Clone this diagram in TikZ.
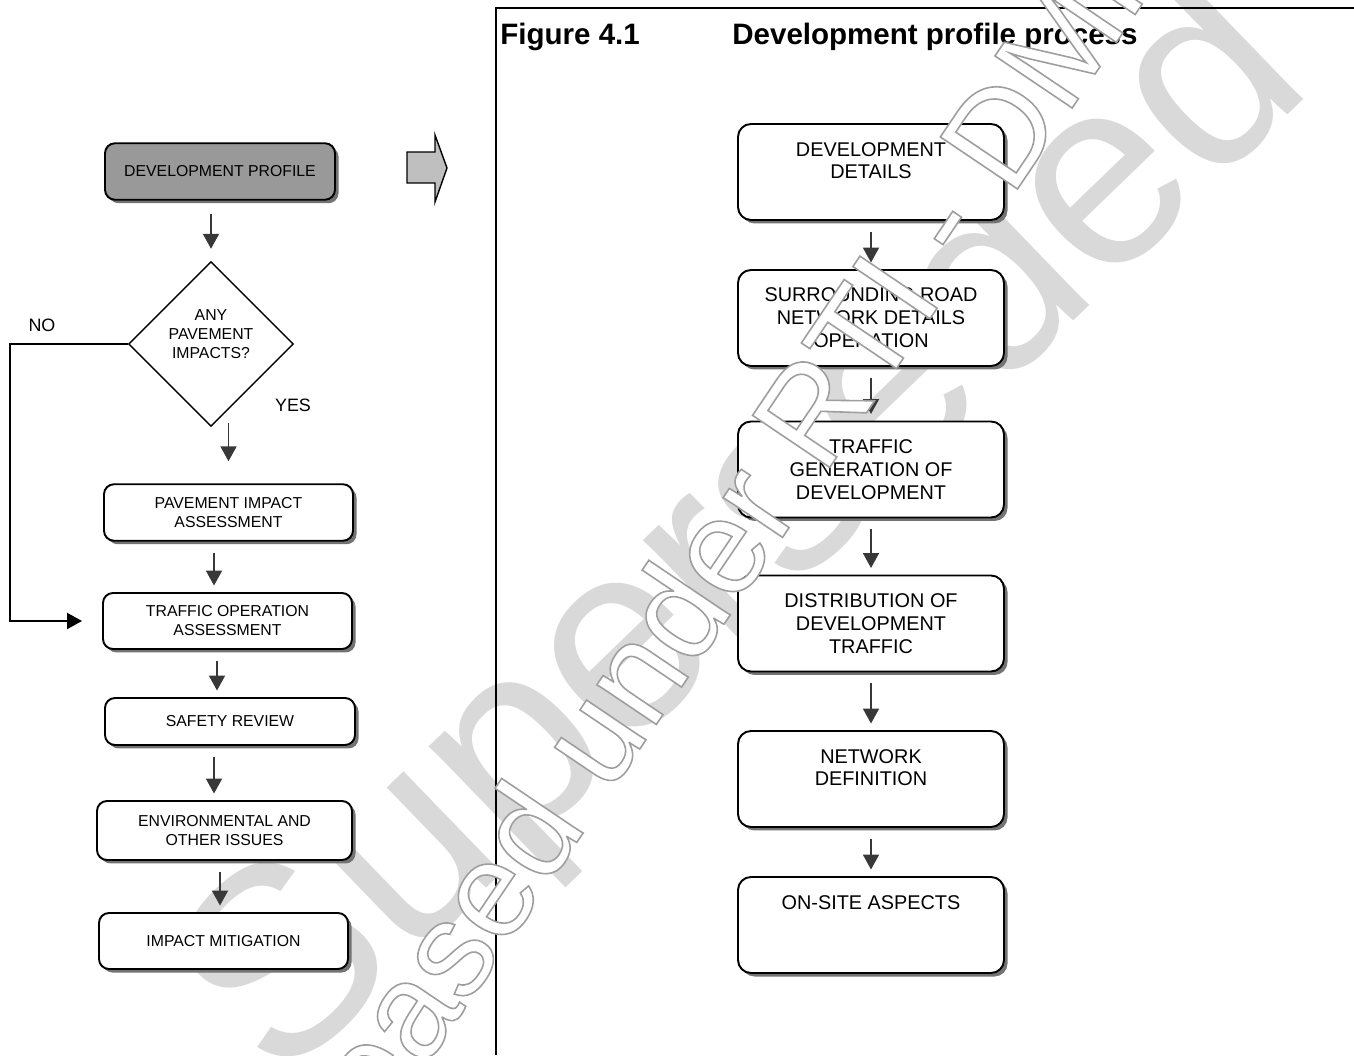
\documentclass[tikz,border=0pt]{standalone}
\usepackage{fontspec}
\setmainfont{Liberation Sans}
\usetikzlibrary{arrows.meta,shapes.geometric,shadows}

\begin{document}
\begin{tikzpicture}[
  box/.style={draw,line width=1.1pt,fill=white,align=center,inner sep=0pt,
    drop shadow={shadow xshift=0.07cm,shadow yshift=-0.07cm,fill=black!55,opacity=1}},
  lbox/.style={box,rounded corners=0.2cm,font=\fontsize{9}{10.8}\selectfont,
    minimum width=4.98cm,minimum height=1.13cm},
  rbox/.style={box,rounded corners=0.26cm,font=\fontsize{11.3}{13}\selectfont,
    minimum width=5.32cm,minimum height=1.92cm},
  flow/.style={line width=1.1pt,draw=black!78,-{Triangle[width=0.32cm,length=0.3cm]},
    shorten <=0.22cm,shorten >=0.13cm},
  lbl/.style={font=\fontsize{10.2}{12}\selectfont}]
\useasboundingbox (0,0) rectangle (27.08,21.1);
\node[rotate=44,text=black!15,font=\fontsize{152}{152}\selectfont] (stamp) at (15.0,10.35) {Superseded};

\node[lbox,fill=black!40,minimum width=4.6cm] (prof) at (4.40,17.67) {DEVELOPMENT PROFILE};
\node[diamond,draw,line width=0.8pt,aspect=1,minimum width=3.3cm,minimum height=3.3cm,
  inner sep=0pt,align=center,font=\fontsize{9}{10.8}\selectfont] (dia) at (4.22,14.22)
  {ANY\\PAVEMENT\\IMPACTS?\\\mbox{}};
\node[lbox] (pia) at (4.57,10.85) {PAVEMENT IMPACT\\ASSESSMENT};
\node[lbox,minimum height=1.12cm] (toa) at (4.55,8.68) {TRAFFIC OPERATION\\ASSESSMENT};
\node[lbox,minimum width=5cm,minimum height=0.94cm] (safe) at (4.60,6.67) {SAFETY REVIEW};
\node[lbox,minimum width=5.1cm,minimum height=1.18cm] (env) at (4.49,4.49) {ENVIRONMENTAL AND\\OTHER ISSUES};
\node[lbox,minimum height=1.12cm] (mit) at (4.47,2.28) {IMPACT MITIGATION};
\node[lbl] (no) at (0.84,14.6) {NO};
\node[lbl] (yes) at (5.86,13.0) {YES};
\coordinate (nobend) at (0.2,8.68);

\draw[flow,shorten <=0.26cm,shorten >=0.24cm] (prof.south -| dia.north) -- (dia.north);
\draw[flow,shorten <=-0.08cm,shorten >=0.44cm] (dia.south -| pia.north) -- (pia.north);
\foreach \a/\b/\s in {pia/toa/-0.29,toa/safe/-0.21,safe/env/-0.32,env/mit/-0.09}
  \draw[flow] ([xshift=\s cm]\a.south) -- ([xshift=\s cm]\a.south |- \b.north);
\draw[flow,draw=black,shorten <=0pt,shorten >=0.4cm] (dia.west) -- (dia.west -| nobend) |- (toa.west);

\draw[line width=0.8pt,fill=black!25] (8.14,17.44) -- (8.70,17.44) -- (8.70,17.06) -- (8.94,17.74)
  -- (8.70,18.40) -- (8.70,18.06) -- (8.14,18.06) -- cycle;

\draw[line width=1pt] (9.92,0) -- (9.92,20.94) -- (27.08,20.94);
\node[anchor=base west,inner sep=0pt,font=\fontsize{16.8}{20}\selectfont\bfseries] (fig) at (10.0,20.2) {Figure 4.1};
\node[anchor=base west,inner sep=0pt,font=\fontsize{16.8}{20}\selectfont\bfseries] (title) at (14.64,20.2) {Development profile process};

\node[rbox] (dd) at (17.42,17.66) {DEVELOPMENT\\DETAILS\\\mbox{}};
\node[rbox] (srn) at (17.42,14.74) {SURROUNDING ROAD\\NETWORK DETAILS\\OPERATION};
\node[rbox] (tgd) at (17.42,11.71) {TRAFFIC\\GENERATION OF\\DEVELOPMENT};
\node[rbox] (ddt) at (17.42,8.63) {DISTRIBUTION OF\\DEVELOPMENT\\TRAFFIC};
\node[rbox] (nd) at (17.42,5.52) {NETWORK\\DEFINITION\\\mbox{}};
\node[rbox] (osa) at (17.42,2.6) {ON-SITE ASPECTS\\\mbox{}\\\mbox{}};
\foreach \a/\b in {dd/srn,srn/tgd,tgd/ddt,ddt/nd,nd/osa}
  \draw[flow] (\a) -- (\b);

\node[rotate=56,text=white,font=\fontsize{77}{77}\selectfont] (rti) at (13.72,9.22)
  {\special{pdf:literal 2 Tr 0.9 w 0.62 G}Released under RTI - DMR};
\end{tikzpicture}
\end{document}
